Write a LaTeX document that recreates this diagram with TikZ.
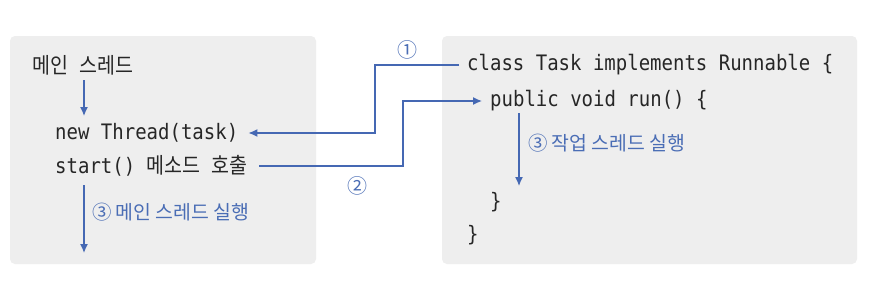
\documentclass[tikz,border=0pt]{standalone}
\usepackage{fontspec}
\setmonofont{DejaVu Sans Mono}
\newfontfamily\kr{Noto Sans CJK KR}
\usetikzlibrary{arrows.meta}
\definecolor{arrowblue}{HTML}{4568B3}
\definecolor{labelblue}{HTML}{4A6DB5}
\definecolor{boxgray}{HTML}{EEEEEE}
\newcommand{\tallcode}[1]{\scalebox{1}[1.12]{#1}}
\tikzset{
  panel/.style={fill=boxgray, draw=none, rounded corners=5pt},
  code/.style={anchor=west, inner sep=0pt, font=\ttfamily\fontsize{19}{19}\selectfont, text=black!85},
  bluelabel/.style={anchor=west, inner sep=0pt, font=\kr\fontsize{19.4}{19.4}\selectfont, text=labelblue},
  numlabel/.style={inner sep=0pt, font=\kr\fontsize{20}{20}\selectfont, text=labelblue},
  flow/.style={draw=arrowblue, line width=1.3pt, -{Latex[length=9pt,width=8pt]}},
}
\newcommand{\kt}[1]{{\kr\fontsize{19.5}{19.5}\selectfont #1}}
\begin{document}
\begin{tikzpicture}[x=1pt,y=-1pt]
\useasboundingbox (0,0) rectangle (882,284);
\fill[white] (0,0) rectangle (882,284);
% panels
\path[panel] (10,36) rectangle (316,264);
\path[panel] (442,36) rectangle (857,264);
% left texts
\node[code] (main) at (32,65) {\tallcode{\kt{메인}\ \kt{스레드}}};
\node[code] (newt) at (55,133) {\tallcode{new Thread(task)}};
\node[code] (start) at (55,166) {\tallcode{start() \kt{메소드}\ \kt{호출}}};
\coordinate (mainA) at (84,80);
\coordinate (mainB) at (84,116);
\coordinate (mainC) at (84,185);
\coordinate (mainD) at (84,253);
\draw[flow] (mainA) -- (mainB);
\draw[flow] (mainC) -- (mainD);
\node[bluelabel] (lab3a) at (92,212) {③ 메인 스레드 실행};
% right texts
\node[code] (cls) at (467,65) {\tallcode{class Task implements Runnable \{}};
\node[code] (run) at (490,101) {\tallcode{public void run() \{}};
\node[code] (cb1) at (490,202) {\tallcode{\}}};
\node[code] (cb2) at (467,235) {\tallcode{\}}};
\coordinate (runA) at (519,113);
\coordinate (runB) at (519,186);
\draw[flow] (runA) -- (runB);
\node[bluelabel] (lab3b) at (528,143) {③ 작업 스레드 실행};
% connectors
\draw[flow] ([xshift=-8pt]cls.west) -| (375,133) -- ([xshift=10pt]newt.east);
\draw[flow] ([xshift=11pt]start.east) -| (403,101) -- ([xshift=-8pt]run.west);
\node[numlabel] (n1) at (407,50) {①};
\node[numlabel] (n2) at (357,186) {②};
\end{tikzpicture}
\end{document}
